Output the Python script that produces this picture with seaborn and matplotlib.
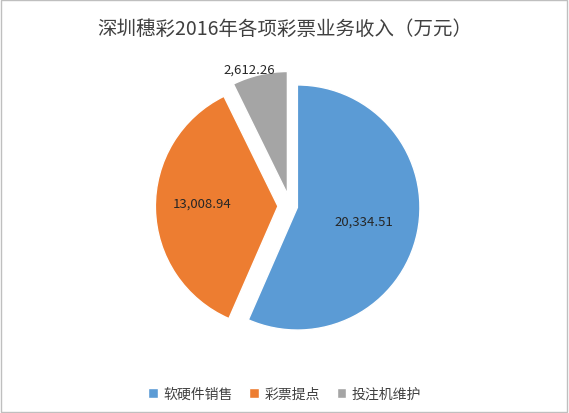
import matplotlib.pyplot as plt
import seaborn as sns
from matplotlib.patches import Rectangle

sns.set_style('white')
plt.rcParams['font.family'] = ['Noto Sans CJK SC', 'DejaVu Sans']

categories = ['软硬件销售', '彩票提点', '投注机维护']
values = [20334.51, 13008.94, 2612.26]
labels = ['20,334.51', '13,008.94', '2,612.26']
colors = ['#5B9BD5', '#ED7D31', '#A5A5A5']

fig = plt.figure(figsize=(5.69, 4.14), dpi=100)
ax = fig.add_axes([0.12, 0.13, 0.78, 0.74])
wedges, _ = ax.pie(values, colors=colors, startangle=90, counterclock=False,
                   explode=[0.06, 0.1, 0.1], radius=1.0,
                   wedgeprops=dict(edgecolor='white', linewidth=1))
ax.set_aspect('equal')

ax.text(0.60, -0.12, labels[0], ha='center', va='center', fontsize=9.5)
ax.text(-0.72, 0.02, labels[1], ha='center', va='center', fontsize=9.5)
ax.text(-0.33, 1.12, labels[2], ha='center', va='center', fontsize=9.5)

fig.suptitle('深圳穗彩2016年各项彩票业务收入（万元）', y=0.955, fontsize=14, color='#404040')
fig.legend(wedges, categories, loc='lower center', ncol=3, frameon=False,
           bbox_to_anchor=(0.5, 0.0), fontsize=10, handlelength=0.7, handleheight=0.7,
           columnspacing=1.2, handletextpad=0.4, labelcolor='#404040')
fig.patches.append(Rectangle((0.002, 0.002), 0.995, 0.995, transform=fig.transFigure,
                             fill=False, edgecolor='#BFBFBF', linewidth=1))
fig.savefig('out.png', dpi=100)
